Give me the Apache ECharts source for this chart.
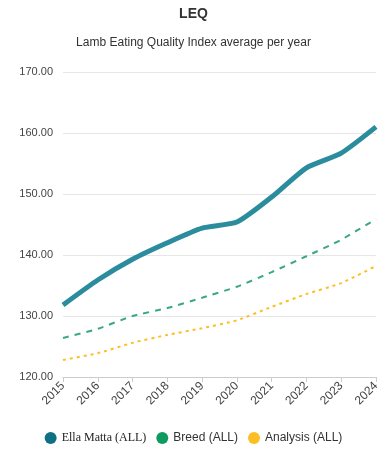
<!DOCTYPE html>
<html><head><meta charset="utf-8">
<script src="https://cdn.jsdelivr.net/npm/echarts@6/dist/echarts.min.js"></script>
<style>html,body{margin:0;padding:0;background:#fff}#c{width:387px;height:450px}</style>
</head><body><div id="c"></div>
<script>
var years = ['2015','2016','2017','2018','2019','2020','2021','2022','2023','2024'];
var ellaMatta = [131.8, 135.9, 139.3, 142.0, 144.4, 145.4, 149.5, 154.3, 156.7, 161.0];
var breed = [126.4, 127.9, 130.0, 131.3, 133.0, 134.8, 137.2, 139.8, 142.5, 145.9];
var analysis = [122.8, 123.9, 125.6, 126.9, 128.0, 129.3, 131.5, 133.6, 135.4, 138.2];
var seriesNames = ['Ella Matta (ALL)', 'Breed (ALL)', 'Analysis (ALL)'];

var chart = echarts.init(document.getElementById('c'));
chart.setOption({
  animation: false,
  title: [
    {text: 'LEQ', left: 'center', top: 2, textStyle: {fontSize: 14, fontWeight: 'bold', color: '#333', fontFamily: 'Arial, Liberation Sans, sans-serif'}},
    {text: 'Lamb Eating Quality Index average per year', left: 'center', top: 32, textStyle: {fontSize: 12, fontWeight: 'normal', color: '#333', fontFamily: 'Arial, Liberation Sans, sans-serif'}}
  ],
  legend: {
    bottom: 1, left: 'center', icon: 'circle', itemWidth: 12, itemHeight: 12, itemGap: 10,
    textStyle: {fontSize: 12, color: '#333', fontFamily: 'Arial, Liberation Sans, sans-serif'},
    data: [
      {name: seriesNames[0], textStyle: {fontFamily: 'Liberation Serif, Times New Roman, serif', fontSize: 12, color: '#222'}},
      {name: seriesNames[1]},
      {name: seriesNames[2]}
    ]
  },
  grid: {left: 63, right: 11, top: 72, bottom: 73, containLabel: false},
  xAxis: {
    type: 'category', data: years, boundaryGap: false,
    axisLine: {lineStyle: {color: '#ccc'}},
    axisTick: {show: true, alignWithLabel: true, lineStyle: {color: '#ccc'}},
    axisLabel: {rotate: 45, fontSize: 12, color: '#444', margin: 7, fontFamily: 'Arial, Liberation Sans, sans-serif'}
  },
  yAxis: {
    type: 'value', min: 120, max: 170, interval: 10,
    axisLine: {show: false}, axisTick: {show: false},
    splitLine: {lineStyle: {color: '#e6e6e6'}},
    axisLabel: {fontSize: 11, color: '#444', margin: 10, formatter: function(v){return v.toFixed(2);}, fontFamily: 'Arial, Liberation Sans, sans-serif'}
  },
  series: [
    {name: seriesNames[0], type: 'line', data: ellaMatta, smooth: 0.2, symbol: 'none',
     itemStyle: {color: '#0f6f85'}, lineStyle: {color: '#2a8c9c', width: 5}},
    {name: seriesNames[1], type: 'line', data: breed, smooth: 0.2, symbol: 'none',
     itemStyle: {color: '#0f9a60'}, lineStyle: {color: '#3aa880', width: 2, type: [6, 6]}},
    {name: seriesNames[2], type: 'line', data: analysis, smooth: 0.2, symbol: 'none',
     itemStyle: {color: '#fbbf24'}, lineStyle: {color: '#fbbf24', width: 2, type: [3, 4]}}
  ]
});
</script></body></html>
